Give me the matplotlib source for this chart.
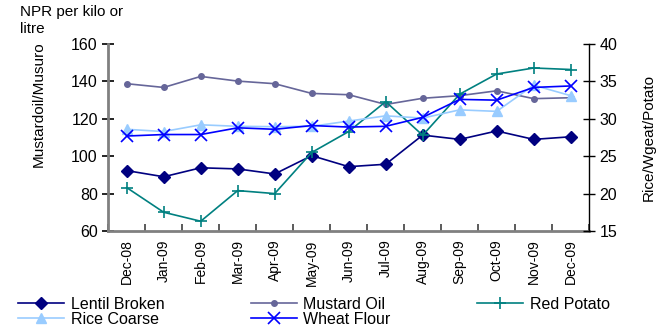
import matplotlib
matplotlib.use("Agg")
import matplotlib.pyplot as plt
import numpy as np

plt.rcParams['font.family'] = ['Liberation Sans', 'DejaVu Sans']

months = ['Dec-08', 'Jan-09', 'Feb-09', 'Mar-09', 'Apr-09', 'May-09', 'Jun-09',
          'Jul-09', 'Aug-09', 'Sep-09', 'Oct-09', 'Nov-09', 'Dec-09']

# left axis (NPR per kilo / litre)
lentil_broken = [92.3, 89.0, 93.8, 93.2, 90.5, 100.3, 94.4, 95.7, 111.3, 109.0, 113.5, 109.0, 110.4]
mustard_oil = [138.8, 136.8, 142.7, 140.2, 138.8, 133.6, 132.9, 127.7, 131.0, 132.4, 135.0, 130.8, 131.3]

# right axis
rice_coarse = [28.6, 28.3, 29.2, 29.0, 28.95, 29.0, 29.7, 30.4, 30.1, 31.2, 31.0, 34.5, 33.1]
wheat_flour = [27.7, 27.9, 27.9, 28.8, 28.6, 29.1, 28.9, 29.0, 30.2, 32.6, 32.5, 34.2, 34.4]
red_potato = [20.8, 17.5, 16.3, 20.4, 20.0, 25.5, 28.3, 32.3, 27.8, 33.3, 36.0, 36.8, 36.6]

x = np.arange(len(months))

fig = plt.figure(figsize=(6.68, 3.29), dpi=100)
ax = fig.add_axes([0.162, 0.298, 0.72, 0.568])
ax2 = ax.twinx()

l1, = ax.plot(x, lentil_broken, color='#000080', marker='D', markersize=6, lw=1.2, label='Lentil Broken')
l2, = ax.plot(x, mustard_oil, color='#666699', marker='o', markersize=4, lw=1.2, label='Mustard Oil')
l3, = ax2.plot(x, red_potato, color='#008080', marker='+', markersize=8, mew=1.2, lw=1.2, label='Red Potato')
l4, = ax2.plot(x, rice_coarse, color='#99CCFF', marker='^', markersize=7, lw=1.2, label='Rice Coarse')
l5, = ax2.plot(x, wheat_flour, color='#0000FF', marker='x', markersize=8, mew=1.2, lw=1.2, label='Wheat Flour')

ax.set_xlim(-0.5, len(months) - 0.5)
ax.set_ylim(60, 160)
ax.set_yticks(range(60, 161, 20))
ax2.set_ylim(15, 40)
ax2.set_yticks(range(15, 41, 5))

ax.set_xticks(x)
ax.set_xticklabels(months, rotation=90, fontsize=10)
ax.set_xticks(np.arange(-0.5, len(months), 1), minor=True)
ax.tick_params(axis='x', which='major', length=0, pad=6)
ax.tick_params(axis='x', which='minor', direction='in', length=5, width=1.2, color='#404040')
ax.tick_params(axis='y', direction='inout', length=8, width=1.2, labelsize=11.5)
ax2.tick_params(axis='y', direction='inout', length=8, width=1, labelsize=11.5)

for s in ['top', 'right']:
    ax.spines[s].set_visible(False)
ax.spines['left'].set_color('#808080')
ax.spines['left'].set_linewidth(2)
ax.spines['bottom'].set_color('#808080')
ax.spines['bottom'].set_linewidth(2)
ax2.spines['top'].set_visible(False)
ax2.spines['left'].set_visible(False)
ax2.spines['bottom'].set_visible(False)
ax2.spines['right'].set_linewidth(1)

ax.set_ylabel('Mustardoil/Musuro', fontsize=11)
ax.yaxis.set_label_coords(-0.13, 0.68)
ax2.set_ylabel('Rice/Wgeat/Potato', fontsize=11, rotation=90)
ax2.yaxis.set_label_coords(1.11, 0.5)

fig.text(20 / 668, 1 - 5 / 329, 'NPR per kilo or\nlitre', fontsize=11, va='top', ha='left', linespacing=1.3)

fig.legend([l1, l4, l2, l5, l3],
           ['Lentil Broken', 'Rice Coarse', 'Mustard Oil', 'Wheat Flour', 'Red Potato'],
           ncol=3, loc='upper left', bbox_to_anchor=(18 / 668, 1 - 297 / 329),
           frameon=False, fontsize=11.5, handlelength=2.9, handletextpad=0.4,
           columnspacing=5.4, labelspacing=0.0, borderpad=0, borderaxespad=0)

fig.savefig('out.png', dpi=100)
